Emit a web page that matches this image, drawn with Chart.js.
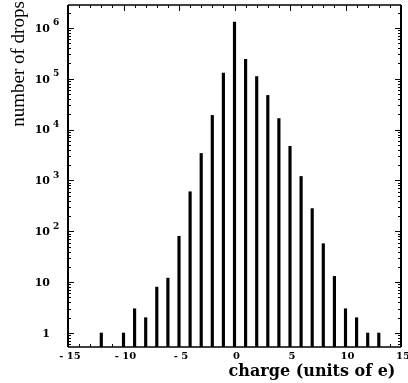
<!DOCTYPE html>
<html>
<head>
<meta charset="utf-8">
<script src="https://cdn.jsdelivr.net/npm/chart.js@4/dist/chart.umd.min.js"></script>
<style>
  html, body { margin: 0; padding: 0; background: #fff; }
  #wrap { width: 408px; height: 383px; position: relative; }
</style>
</head>
<body>
<div id="wrap"><canvas id="c" width="408" height="383"></canvas></div>
<script>
// Drop charge histogram: number of drops per integer charge (units of e)
const charges = [-12, -10, -9, -8, -7, -6, -5, -4, -3, -2, -1, 0, 1, 2, 3, 4, 5, 6, 7, 8, 9, 10, 11, 12, 13];
const drops   = [1, 1, 3, 2, 8, 12, 80, 600, 3400, 19000, 130000, 1300000, 240000, 110000, 47000, 16500, 4700, 1200, 280, 57, 13, 3, 2, 1, 1];

const xTickLabels = [-15, -10, -5, 0, 5, 10, 15];
const yDecades = [0, 1, 2, 3, 4, 5, 6];

const X_MIN = -15, X_MAX = 15;
const Y_MIN = 0.531, Y_MAX = 2.82e6;

const SERIF = "'Liberation Serif', 'DejaVu Serif', serif";
const WIDE_SERIF = "'DejaVu Serif', 'Liberation Serif', serif";

// Frame, inward ticks, tick labels and axis titles
const framePlugin = {
  id: 'frame',
  afterDatasetsDraw(chart) {
    const ctx = chart.ctx;
    const xs = chart.scales.x, ys = chart.scales.y;
    const a = chart.chartArea;
    ctx.save();
    ctx.strokeStyle = '#000';
    ctx.fillStyle = '#000';

    // x ticks on bottom (pointing up) and top (pointing down)
    ctx.lineWidth = 1;
    for (let v = X_MIN; v <= X_MAX; v++) {
      const px = Math.round(xs.getPixelForValue(v)) + 0.5;
      const len = (v % 5 === 0) ? 6 : 3;
      ctx.beginPath();
      ctx.moveTo(px, a.bottom); ctx.lineTo(px, a.bottom - len);
      ctx.moveTo(px, a.top); ctx.lineTo(px, a.top + len);
      ctx.stroke();
    }

    // log ticks on left (pointing right) and right (pointing left)
    for (let d = -1; d <= 6; d++) {
      for (let m = 1; m <= 9; m++) {
        const v = m * Math.pow(10, d);
        if (v < Y_MIN || v > Y_MAX) continue;
        const py = Math.round(ys.getPixelForValue(v)) + 0.5;
        const len = (m === 1) ? 6 : 3;
        ctx.beginPath();
        ctx.moveTo(a.left, py); ctx.lineTo(a.left + len, py);
        ctx.moveTo(a.right, py); ctx.lineTo(a.right - len, py);
        ctx.stroke();
      }
    }

    // frame
    ctx.lineWidth = 2;
    ctx.beginPath();
    ctx.moveTo(a.left, a.top); ctx.lineTo(a.left, a.bottom);
    ctx.moveTo(a.right, a.top); ctx.lineTo(a.right, a.bottom);
    ctx.stroke();
    ctx.lineWidth = 1.5;
    ctx.beginPath();
    ctx.moveTo(a.left, a.top); ctx.lineTo(a.right, a.top);
    ctx.moveTo(a.left, a.bottom); ctx.lineTo(a.right, a.bottom);
    ctx.stroke();

    // x tick labels
    ctx.font = 'bold 10px ' + WIDE_SERIF;
    ctx.textAlign = 'center';
    ctx.textBaseline = 'middle';
    xTickLabels.forEach(v => {
      const px = xs.getPixelForValue(v) + 2;
      ctx.fillText(String(v).replace('-', '- '), px, a.bottom + 9);
    });

    // y tick labels: 1, 10, 10^2 ... 10^6
    yDecades.forEach(e => {
      const py = ys.getPixelForValue(Math.pow(10, e));
      ctx.font = 'bold 11px ' + WIDE_SERIF;
      ctx.textBaseline = 'middle';
      ctx.textAlign = 'right';
      if (e === 0) {
        ctx.fillText('1', 50, py + 1);
      } else {
        ctx.fillText('10', 50, py + 1);
        if (e > 1) {
          ctx.font = 'bold 9px ' + WIDE_SERIF;
          ctx.textAlign = 'left';
          ctx.fillText(String(e), 53, py - 5);
        }
      }
    });

    // axis titles
    ctx.font = '19px ' + SERIF;
    ctx.textAlign = 'center';
    ctx.textBaseline = 'middle';
    ctx.save();
    ctx.translate(19, 64);
    ctx.rotate(-Math.PI / 2);
    ctx.fillText('number of drops', 0, 0);
    ctx.restore();

    ctx.font = 'bold 16px ' + WIDE_SERIF;
    ctx.fillText('charge (units of e)', 312, 372);
    ctx.restore();
  }
};

new Chart(document.getElementById('c'), {
  type: 'bar',
  data: {
    datasets: [{
      data: charges.map((c, i) => ({ x: c, y: drops[i] })),
      backgroundColor: '#000',
      borderWidth: 0,
      barThickness: 2.5
    }]
  },
  options: {
    responsive: false,
    animation: false,
    layout: { padding: { left: 68, right: 7, top: 5, bottom: 36 } },
    plugins: { legend: { display: false }, tooltip: { enabled: false } },
    scales: {
      x: { type: 'linear', min: X_MIN, max: X_MAX, display: false, offset: false },
      y: { type: 'logarithmic', min: Y_MIN, max: Y_MAX, display: false }
    }
  },
  plugins: [framePlugin]
});
</script>
</body>
</html>
